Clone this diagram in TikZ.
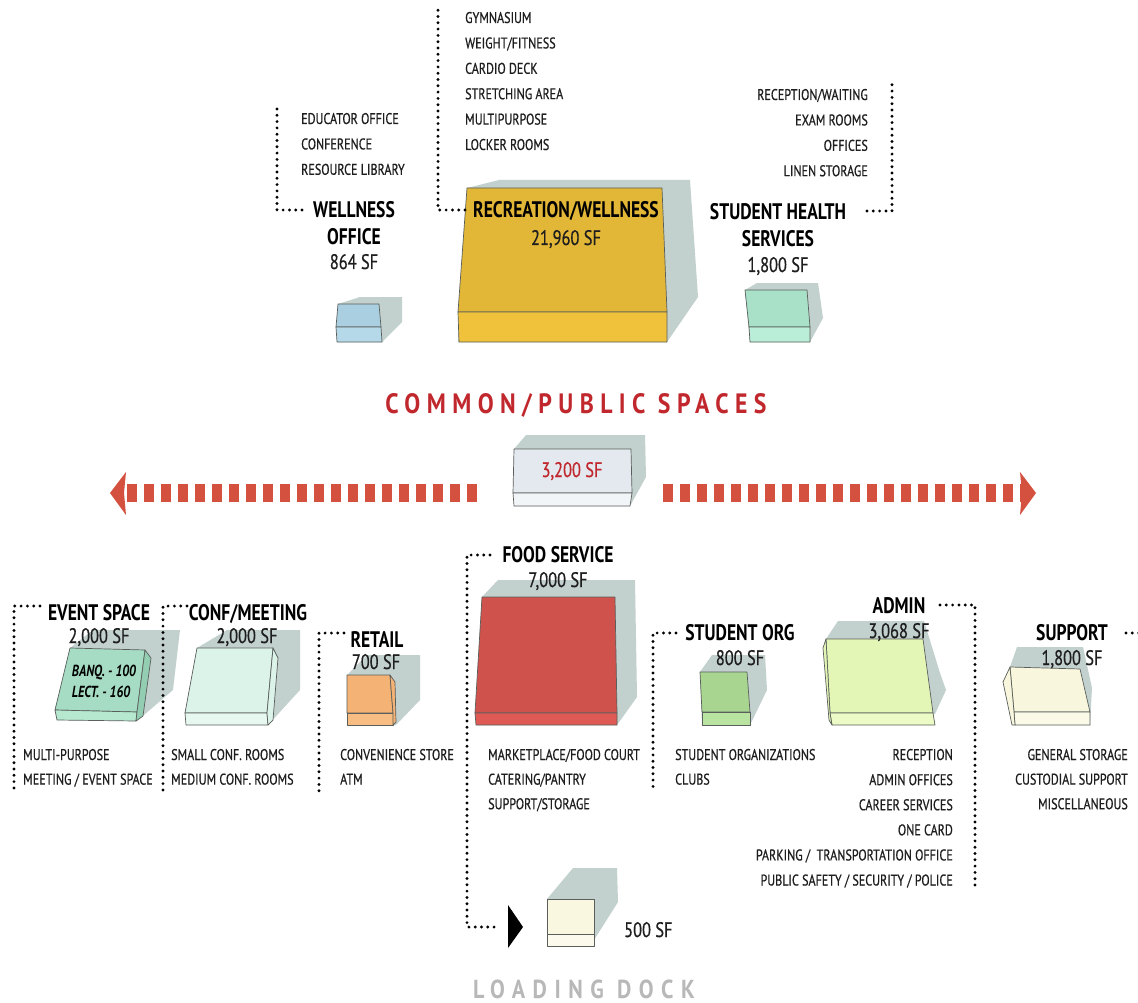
\documentclass[tikz,border=0pt]{standalone}
\usepackage{fontspec}
\setmainfont{PT Sans}[FakeStretch=0.78]
\newfontfamily\itemfont{PT Sans}[FakeStretch=0.78,FakeBold=0.6]
\newfontfamily\spacedfont{PT Sans Bold}[FakeStretch=0.85,LetterSpace=23]
\newfontfamily\spacedfontb{PT Sans Bold}[FakeStretch=0.85,LetterSpace=29]
\newcommand\itemsz{\itemfont\fontsize{15.5}{18}\selectfont}
\newcommand\ttlsz{\fontsize{22.5}{25}\selectfont}
\newcommand\sfsz{\itemfont\fontsize{21}{24}\selectfont}
\definecolor{shadowc}{HTML}{C2D0CE}
\definecolor{edgec}{HTML}{5A5F5C}
\definecolor{itemc}{HTML}{1E1E1E}
\definecolor{redc}{HTML}{C0282D}
\definecolor{arrowc}{HTML}{D4503F}
\definecolor{greyc}{HTML}{B8B8B8}
\definecolor{wellf}{HTML}{A9CFE0}\definecolor{wellb}{HTML}{B6D9E9}
\definecolor{recf}{HTML}{E2B636}\definecolor{recb}{HTML}{F0C23C}
\definecolor{shf}{HTML}{A8E0C8}\definecolor{shb}{HTML}{BAEED8}
\definecolor{comf}{HTML}{E4E9EF}\definecolor{comb}{HTML}{F2F5F8}
\definecolor{evf}{HTML}{A6DCC3}\definecolor{evb}{HTML}{B6E8D0}\definecolor{evs}{HTML}{93CDB2}
\definecolor{cff}{HTML}{DCF3EA}\definecolor{cfb}{HTML}{E7F8F0}
\definecolor{rtf}{HTML}{F4B274}\definecolor{rtb}{HTML}{F7BD82}
\definecolor{fdf}{HTML}{D0524D}\definecolor{fdb}{HTML}{E05A55}
\definecolor{sof}{HTML}{A8D690}\definecolor{sob}{HTML}{B9E3A1}
\definecolor{adf}{HTML}{E4F6B6}\definecolor{adb}{HTML}{ECFAC6}
\definecolor{spf}{HTML}{F8F6DC}\definecolor{spb}{HTML}{FBFAE9}
\definecolor{ldf}{HTML}{FAF7E0}\definecolor{ldb}{HTML}{FCFAEC}
\begin{document}
\begin{tikzpicture}[x=1pt,y=-1pt,
  shadowp/.style={fill=shadowc,draw=none},
  face/.style={draw=edgec,line width=0.7pt,line join=round},
  item/.style={font=\itemsz,text=itemc,inner sep=0pt},
  ttl/.style={font=\ttlsz\bfseries,text=black,inner sep=0pt},
  sf/.style={font=\sfsz,text=itemc,inner sep=0pt},
  dotl/.style={line width=3.2pt,dash pattern=on 0pt off 6.3pt,line cap=round},
  reddash/.style={draw=arrowc,line width=18pt,dash pattern=on 9.5pt off 7.5pt},
  redhead/.style={fill=arrowc,draw=none}]
\useasboundingbox (0,0) rectangle (1138,1003);
\fill[white] (0,0) rectangle (1138,1003);

% ---------------- top boxes
% wellness office
\fill[shadowp] (360,297)--(402,297)--(402,322)--(382,342)--(338,342)--(338,304)--cycle;
\draw[face,fill=wellf] (338,304)--(379,304)--(381,327)--(336,327)--cycle;
\draw[face,fill=wellb] (336,327)--(381,327)--(382,342)--(337,342)--cycle;
% recreation
\fill[shadowp] (499,180)--(690,180)--(698,297)--(667,342)--(458,342)--(467,188)--cycle;
\draw[face,fill=recf] (467,188)--(662,188)--(667,312)--(458,312)--cycle;
\draw[face,fill=recb] (458,312)--(667,312)--(667,342)--(459,342)--cycle;
% student health
\fill[shadowp] (757,283)--(818,283)--(823,318)--(810,342)--(750,342)--(745,290)--cycle;
\draw[face,fill=shf] (745,290)--(807,290)--(810,327)--(749,327)--cycle;
\draw[face,fill=shb] (749,327)--(810,327)--(810,342)--(750,342)--cycle;

% ---------------- top texts
\foreach \t [count=\i] in {EDUCATOR OFFICE,CONFERENCE,RESOURCE LIBRARY}
  \node[item,anchor=base west] (edu\i) at (301,124+25.4*\i-25.4) {\t};
\foreach \t [count=\i] in {GYMNASIUM,WEIGHT/FITNESS,CARDIO DECK,STRETCHING AREA,MULTIPURPOSE,LOCKER ROOMS}
  \node[item,anchor=base west] (gym\i) at (465,23+25.4*\i-25.4) {\t};
\foreach \t [count=\i] in {RECEPTION/WAITING,EXAM ROOMS,OFFICES,LINEN STORAGE}
  \node[item,anchor=base east] (shs\i) at (868,100+25.4*\i-25.4) {\t};

\node[ttl,anchor=base] (wt1) at (354,218) {WELLNESS};
\node[ttl,anchor=base] (wt2) at (354,244) {OFFICE};
\node[sf,anchor=base] (wsf) at (354,269) {864 SF};
\node[ttl,anchor=base] (rt) at (566,218) {RECREATION/WELLNESS};
\node[sf,anchor=base] (rsf) at (566,245) {21,960 SF};
\node[ttl,anchor=base] (st1) at (778,220) {STUDENT HEALTH};
\node[ttl,anchor=base] (st2) at (778,247) {SERVICES};
\node[sf,anchor=base] (ssf) at (778,272) {1,800 SF};

\coordinate (wA) at (302,210); \coordinate (wB) at (277,210); \coordinate (wC) at (277,108);
\draw[dotl] (wA)--(wB)--(wC);
\coordinate (rA) at (465,210); \coordinate (rB) at (438,210); \coordinate (rC) at (438,10);
\draw[dotl] (rA)--(rB)--(rC);
\coordinate (sA) at (867,211); \coordinate (sB) at (892,211); \coordinate (sC) at (892,84);
\draw[dotl] (sA)--(sB)--(sC);

% ---------------- common / public
\node[font=\spacedfont\fontsize{28}{30}\selectfont,text=redc,anchor=base,inner sep=0pt] (cps) at (576,413) {COMMON/PUBLIC SPACES};
\fill[shadowp] (526,435)--(645,435)--(646,477)--(630,506)--(514,506)--(514,449)--cycle;
\draw[face,fill=comf] (514,449)--(631,449)--(632,493)--(513,493)--cycle;
\draw[face,fill=comb] (513,493)--(632,493)--(630,506)--(514,506)--cycle;
\node[font=\sfsz,text=redc,anchor=base,inner sep=0pt] (csf) at (572,477) {3,200 SF};

\coordinate (la) at (480,493); \coordinate (lb) at (127,493);
\coordinate (ra) at (663,493); \coordinate (rb) at (1022,493);
\draw[reddash] (lb)--(la);
\draw[reddash] (ra)--(rb);
\fill[redhead] (110,493)--(126,472)--(124,493)--(126,515)--cycle;
\fill[redhead] (1036,493)--(1020,472)--(1022,493)--(1020,515)--cycle;

% ---------------- bottom boxes
% event
\fill[shadowp] (93,630)--(180,630)--(173,690)--(137,721)--(55,710)--(70,648)--cycle;
\draw[face,fill=evf] (70,648)--(145,650)--(137,712)--(55,710)--cycle;
\draw[face,fill=evb] (55,710)--(137,712)--(136,721)--(57,720)--cycle;
\draw[face,fill=evs] (145,650)--(151,658)--(143,716)--(136,721)--(137,712)--cycle;
% conf
\fill[shadowp] (227,630)--(300,630)--(300,690)--(268,725)--(185,713)--(197,648)--cycle;
\draw[face,fill=cff] (197,648)--(273,648)--(267,713)--(185,713)--cycle;
\draw[face,fill=cfb] (185,713)--(267,713)--(268,725)--(186,725)--cycle;
\draw[face,fill=cff] (273,648)--(278,658)--(273,720)--(268,725)--(267,713)--cycle;
% retail
\fill[shadowp] (367,655)--(420,655)--(420,700)--(396,725)--(347,725)--(347,675)--cycle;
\draw[face,fill=rtf] (347,675)--(390,675)--(393,713)--(347,713)--cycle;
\draw[face,fill=rtb] (347,713)--(393,713)--(393,725)--(347,725)--cycle;
\draw[face,fill=rtf] (390,675)--(395,682)--(396,722)--(393,725)--(393,713)--cycle;
% food
\fill[shadowp] (498,580)--(635,580)--(637,697)--(617,725)--(476,725)--(482,597)--cycle;
\draw[face,fill=fdf] (482,597)--(615,597)--(617,713)--(475,713)--cycle;
\draw[face,fill=fdb] (475,713)--(617,713)--(617,725)--(476,725)--cycle;
% student org
\fill[shadowp] (712,655)--(765,655)--(767,690)--(750,725)--(702,725)--(700,672)--cycle;
\draw[face,fill=sof] (700,672)--(747,672)--(750,712)--(702,712)--cycle;
\draw[face,fill=sob] (702,712)--(750,712)--(750,725)--(702,725)--cycle;
% admin
\fill[shadowp] (838,621)--(924,621)--(940,673)--(946,690)--(935,714)--(832,725)--(826,639)--cycle;
\draw[face,fill=adf] (826,639)--(923,639)--(933,713)--(830,713)--cycle;
\draw[face,fill=adb] (830,713)--(933,713)--(935,725)--(832,725)--cycle;
\draw[face,fill=adf] (826,639)--(823,648)--(829,720)--(832,725)--(830,713)--cycle;
% support
\fill[shadowp] (1017,647)--(1083,647)--(1092,688)--(1090,725)--(1015,725)--(1010,667)--cycle;
\draw[face,fill=spf] (1010,667)--(1080,669)--(1090,712)--(1014,712)--cycle;
\draw[face,fill=spb] (1014,712)--(1090,712)--(1090,725)--(1015,725)--cycle;
\draw[face,fill=spf] (1010,667)--(1003,682)--(1012,725)--(1015,725)--(1014,712)--cycle;

% ---------------- bottom titles
\node[ttl,anchor=base] (evt) at (99,620) {EVENT SPACE};
\node[sf,anchor=base] (evsf) at (99,643) {2,000 SF};
\node[ttl,anchor=base] (cft) at (248,620) {CONF/MEETING};
\node[sf,anchor=base] (cfsf) at (247,643) {2,000 SF};
\node[ttl,anchor=base] (rtt) at (377,647) {RETAIL};
\node[sf,anchor=base] (rtsf) at (376,669) {700 SF};
\node[ttl,anchor=base] (fdt) at (558,562) {FOOD SERVICE};
\node[sf,anchor=base] (fdsf) at (558,587) {7,000 SF};
\node[ttl,anchor=base] (sot) at (740,640) {STUDENT ORG};
\node[sf,anchor=base] (sosf) at (740,665) {800 SF};
\node[ttl,anchor=base] (adt) at (899,613) {ADMIN};
\node[sf,anchor=base] (adsf) at (899,638) {3,068 SF};
\node[ttl,anchor=base] (spt) at (1072,640) {SUPPORT};
\node[sf,anchor=base] (spsf) at (1072,665) {1,800 SF};

\node[font=\fontsize{16}{18}\selectfont\bfseries\itshape,text=black,anchor=base,inner sep=0pt] (bq) at (104,676) {BANQ. - 100};
\node[font=\fontsize{16}{18}\selectfont\bfseries\itshape,text=black,anchor=base,inner sep=0pt] (lc) at (101,697) {LECT. - 160};

% ---------------- bottom lists
\foreach \t [count=\i] in {MULTI-PURPOSE,MEETING / EVENT SPACE}
  \node[item,anchor=base west] (ev\i) at (23,760+24.6*\i-24.6) {\t};
\foreach \t [count=\i] in {SMALL CONF. ROOMS,MEDIUM CONF. ROOMS}
  \node[item,anchor=base west] (cf\i) at (171,760+24.6*\i-24.6) {\t};
\foreach \t [count=\i] in {CONVENIENCE STORE,ATM}
  \node[item,anchor=base west] (rt\i) at (340,760+24.6*\i-24.6) {\t};
\foreach \t [count=\i] in {MARKETPLACE/FOOD COURT,CATERING/PANTRY,SUPPORT/STORAGE}
  \node[item,anchor=base west] (fd\i) at (488,760+24.6*\i-24.6) {\t};
\foreach \t [count=\i] in {STUDENT ORGANIZATIONS,CLUBS}
  \node[item,anchor=base west] (so\i) at (675,760+24.6*\i-24.6) {\t};
\foreach \t [count=\i] in {RECEPTION,ADMIN OFFICES,CAREER SERVICES,ONE CARD,PARKING /\ \ TRANSPORTATION OFFICE,PUBLIC SAFETY / SECURITY / POLICE}
  \node[item,anchor=base east] (ad\i) at (953,760+25.1*\i-25.1) {\t};
\foreach \t [count=\i] in {GENERAL STORAGE,CUSTODIAL SUPPORT,MISCELLANEOUS}
  \node[item,anchor=base east] (sp\i) at (1128,760+24.6*\i-24.6) {\t};

% ---------------- bottom dotted brackets
\coordinate (eA) at (40,606); \coordinate (eB) at (14,606); \coordinate (eC) at (14,792);
\draw[dotl] (eA)--(eB)--(eC);
\coordinate (cA) at (187,606); \coordinate (cB) at (163,606); \coordinate (cC) at (163,792);
\draw[dotl] (cA)--(cB)--(cC);
\coordinate (tA) at (344,633); \coordinate (tB) at (319,633); \coordinate (tC) at (319,792);
\draw[dotl] (tA)--(tB)--(tC);
\coordinate (fA) at (490,555); \coordinate (fB) at (467,555); \coordinate (fC) at (467,927); \coordinate (fD) at (500,927);
\draw[dotl] (fA)--(fB)--(fC)--(fD);
\coordinate (oA) at (676,633); \coordinate (oB) at (653,633); \coordinate (oC) at (653,788);
\draw[dotl] (oA)--(oB)--(oC);
\coordinate (aA) at (940,605); \coordinate (aB) at (975,605); \coordinate (aC) at (975,888);
\draw[dotl] (aA)--(aB)--(aC);
\coordinate (pA) at (1126,633); \coordinate (pB) at (1140,633);
\draw[dotl] (pA)--(pB);

% ---------------- loading dock
\fill[black] (508,905)--(523,927)--(508,948)--cycle;
\fill[shadowp] (573,868)--(617,868)--(618,902)--(594,940)--(547,946)--(547,899)--cycle;
\draw[face,fill=ldf] (547,899)--(594,899)--(594,934)--(547,934)--cycle;
\draw[face,fill=ldb] (547,934)--(594,934)--(594,946)--(547,946)--cycle;
\node[sf,anchor=base west] (ldsf) at (624,937) {500 SF};
\node[font=\spacedfontb\fontsize{26}{28}\selectfont,text=greyc,anchor=base,inner sep=0pt] (ldt) at (584,998) {LOADING DOCK};
\end{tikzpicture}
\end{document}
